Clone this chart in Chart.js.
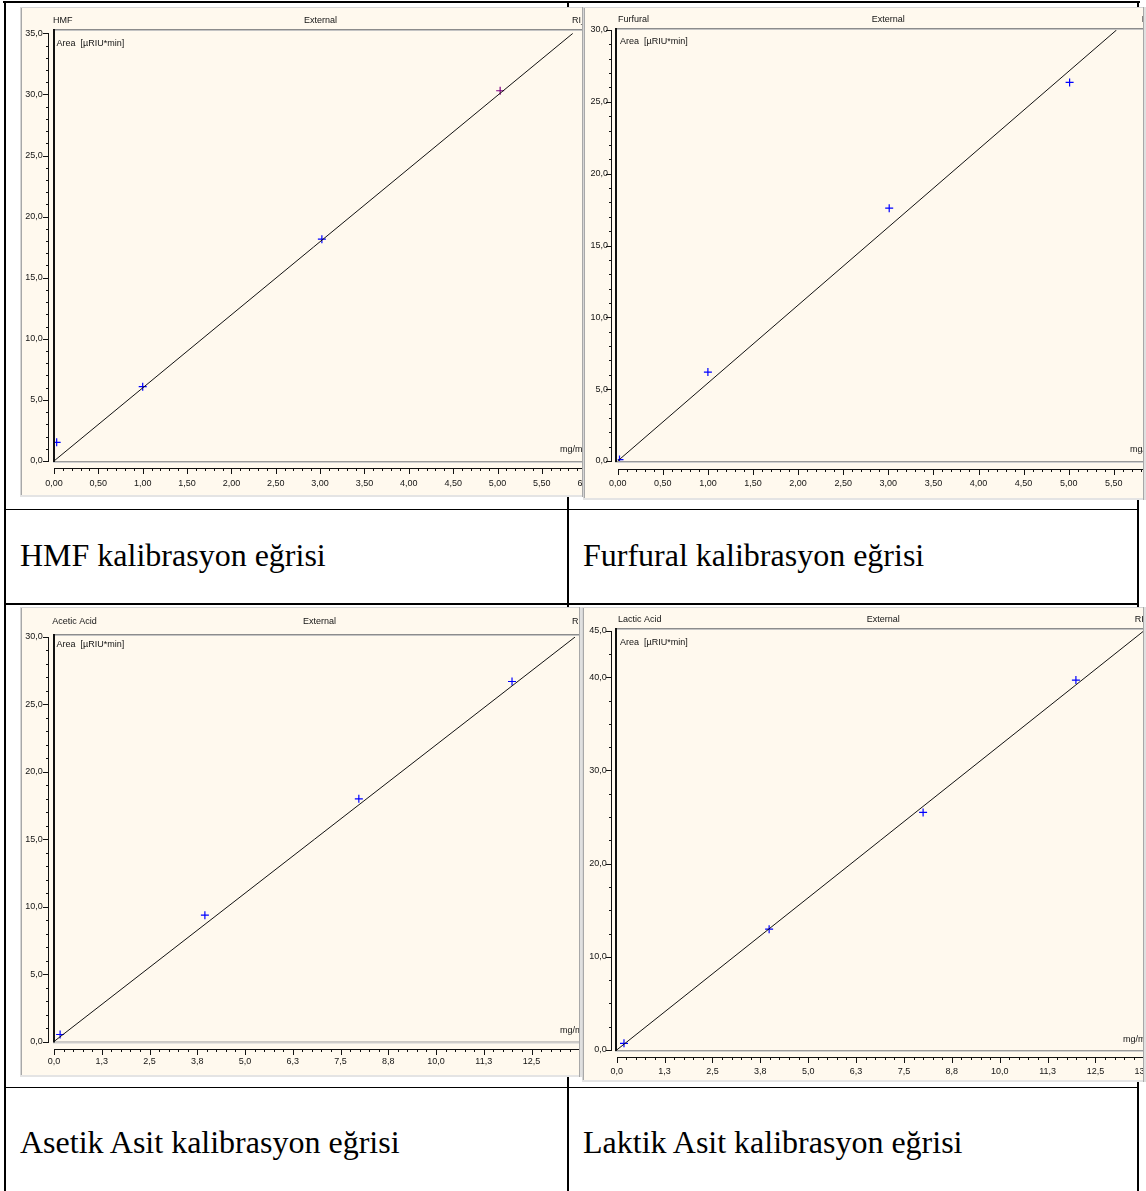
<!DOCTYPE html>
<html>
<head>
<meta charset="utf-8">
<title>Kalibrasyon eğrileri</title>
<script src="https://cdn.jsdelivr.net/npm/chart.js@4.4.1/dist/chart.umd.min.js"></script>
<style>
  html, body { margin: 0; padding: 0; background: #ffffff; }
  body { position: relative; width: 1146px; height: 1191px; overflow: hidden; }
  .rule { position: absolute; background: #000000; }
  .panel { position: absolute; overflow: hidden; background: #fff9ee; }
  .panel canvas { position: absolute; left: 0; top: 0; }
  .caption {
    position: absolute; white-space: nowrap; line-height: 32px; height: 32px;
    font-family: "Liberation Serif", "Times New Roman", serif; font-size: 32px; color: #000;
  }
</style>
</head>
<body>

<!-- table grid -->
<div class="rule" style="left:3px;top:1px;width:1137px;height:2px"></div>
<div class="rule" style="left:4px;top:1px;width:2px;height:1190px"></div>
<div class="rule" style="left:567px;top:1px;width:2px;height:1190px"></div>
<div class="rule" style="left:1137px;top:1px;width:2px;height:1190px"></div>
<div class="rule" style="left:4px;top:509px;width:1135px;height:1px"></div>
<div class="rule" style="left:4px;top:603px;width:1135px;height:2px"></div>
<div class="rule" style="left:4px;top:1087px;width:1135px;height:1px"></div>

<!-- chart panels -->
<div class="panel" style="left:20px;top:7px;width:565px;height:490px"><canvas id="hmf"></canvas></div>
<div class="panel" style="left:583px;top:7px;width:563px;height:493px"><canvas id="furfural"></canvas></div>
<div class="panel" style="left:20px;top:607px;width:565px;height:470px"><canvas id="acetic"></canvas></div>
<div class="panel" style="left:582px;top:607px;width:564px;height:475px"><canvas id="lactic"></canvas></div>

<!-- captions -->
<div class="caption" style="left:20px;top:539px">HMF kalibrasyon eğrisi</div>
<div class="caption" style="left:583px;top:539px">Furfural kalibrasyon eğrisi</div>
<div class="caption" style="left:20px;top:1126px">Asetik Asit kalibrasyon eğrisi</div>
<div class="caption" style="left:583px;top:1126px">Laktik Asit kalibrasyon eğrisi</div>

<script>
// ---------------- calibration data ----------------
// HMF
const hmfConc   = [0.03, 1.00, 3.02, 5.03];          // mg/ml
const hmfArea   = [1.53, 6.08, 18.15, 30.30];        // µRIU*min
const hmfColors = ['#0000ff', '#0000ff', '#0000ff', '#800080'];
const hmfFitEnd = [5.85, 35.0];                      // fitted line leaves the plot here
const hmfXTicks = [0, 0.5, 1, 1.5, 2, 2.5, 3, 3.5, 4, 4.5, 5, 5.5, 6];
const hmfYTicks = [0, 5, 10, 15, 20, 25, 30, 35];

// Furfural
const furConc   = [0.02, 1.00, 3.01, 5.01];
const furArea   = [0.10, 6.19, 17.60, 26.35];
const furColors = ['#0000ff', '#0000ff', '#0000ff', '#0000ff'];
const furFitEnd = [5.53, 30.0];
const furXTicks = [0, 0.5, 1, 1.5, 2, 2.5, 3, 3.5, 4, 4.5, 5, 5.5, 6];
const furYTicks = [0, 5, 10, 15, 20, 25, 30];

// Acetic acid
const aceConc   = [0.16, 3.95, 7.98, 11.99];
const aceArea   = [0.52, 9.37, 18.00, 26.70];
const aceColors = ['#0000ff', '#0000ff', '#0000ff', '#0000ff'];
const aceFitEnd = [13.64, 30.0];
const aceXTicks = [0, 1.25, 2.5, 3.75, 5, 6.25, 7.5, 8.75, 10, 11.25, 12.5];
const aceYTicks = [0, 5, 10, 15, 20, 25, 30];

// Lactic acid
const lacConc   = [0.19, 3.98, 8.00, 11.99];
const lacArea   = [0.72, 12.97, 25.50, 39.70];
const lacColors = ['#0000ff', '#0000ff', '#0000ff', '#0000ff'];
const lacFitEnd = [13.77, 45.0];
const lacXTicks = [0, 1.25, 2.5, 3.75, 5, 6.25, 7.5, 8.75, 10, 11.25, 12.5, 13.75];
const lacYTicks = [0, 10, 20, 30, 40, 45];

// ---------------- drawing ----------------
const UI_FONT = '"Liberation Sans", Arial, sans-serif';
const INK = '#141414';

function fmt(v, dec) { return v.toFixed(dec).replace('.', ','); }

// Chromeleon-style window: header, plot frame, offset axes with minor ticks
const chromeleonFrame = {
  id: 'chromeleonFrame',
  beforeDraw(chart, args, o) {
    const { ctx, width, height } = chart;
    ctx.save();
    ctx.fillStyle = '#fff9ee';
    ctx.fillRect(0, 0, width, height);
    ctx.restore();
  },
  afterDatasetsDraw(chart, args, o) {
    const { ctx, width, height, chartArea: a } = chart;
    const xs = chart.scales.x, ys = chart.scales.y;
    ctx.save();

    // header separator and plot frame
    ctx.fillStyle = '#8c8c8c';
    ctx.fillRect(o.frameLeft, o.headerY, width - o.frameLeft, 1);
    ctx.fillStyle = '#c4c4c4';
    ctx.fillRect(o.frameLeft, o.headerY + 1, width - o.frameLeft, 1);
    ctx.fillStyle = '#9a9a9a';
    ctx.fillRect(o.frameLeft, a.bottom, width - o.frameLeft, 1);
    ctx.fillStyle = '#cfcfcf';
    ctx.fillRect(o.frameLeft, a.bottom + 1, width - o.frameLeft, 1);
    ctx.fillStyle = '#111';
    ctx.fillRect(o.frameLeft, o.headerY, 2, a.bottom - o.headerY + 1);

    // y axis
    ctx.fillStyle = '#111';
    const yTop = ys.getPixelForValue(ys.max), yBot = ys.getPixelForValue(ys.min);
    ctx.fillRect(o.yAxisX, Math.round(yTop), 1, Math.round(yBot) - Math.round(yTop) + 1);
    const nY = Math.round((ys.max - ys.min) / o.yMinor);
    for (let i = 0; i <= nY; i++) {
      const py = Math.round(ys.getPixelForValue(ys.min + i * o.yMinor));
      ctx.fillRect(o.yAxisX - 2, py, 2, 1);
    }
    ys.ticks.forEach(t => {
      const py = Math.round(ys.getPixelForValue(t.value));
      ctx.fillRect(o.yAxisX - 5, py, 5, 1);
    });

    // x axis
    const xL = xs.getPixelForValue(xs.min);
    ctx.fillRect(Math.round(xL), o.xAxisY, width - Math.round(xL), 1);
    const nX = Math.round((xs.max - xs.min) / o.xMinor);
    for (let i = 0; i <= nX; i++) {
      const px = Math.round(xs.getPixelForValue(xs.min + i * o.xMinor));
      ctx.fillRect(px, o.xAxisY, 1, 3);
    }
    xs.ticks.forEach(t => {
      const px = Math.round(xs.getPixelForValue(t.value));
      ctx.fillRect(px, o.xAxisY, 1, 6);
    });

    // texts
    ctx.font = '9px ' + UI_FONT;
    ctx.fillStyle = INK;
    ctx.textBaseline = 'middle';
    ctx.textAlign = 'left';
    ctx.fillText(o.title, o.titleX, o.titleY);
    ctx.fillText('External', o.externalX, o.titleY);
    ctx.fillText('RI_', o.channelX, o.titleY);
    ctx.fillText('Area  [\u00b5RIU*min]', o.areaX, o.areaY);
    ctx.fillText('mg/ml', o.unitX, o.unitY);

    // window edges
    ctx.fillStyle = '#d6d6d6';
    ctx.fillRect(0, 0, width, 1);
    ctx.fillRect(0, 0, 1, height);
    ctx.fillStyle = '#a8a8a8';
    ctx.fillRect(1, 1, 1, height - 2);
    ctx.fillStyle = '#e4e4e4';
    ctx.fillRect(0, o.panelH - 2, width, 2);
    ctx.fillStyle = '#a8a8a8';
    ctx.fillRect(o.panelW - 3, 0, 1, height);
    ctx.fillStyle = '#e0e0e0';
    ctx.fillRect(o.panelW - 2, 0, 2, height);
    ctx.restore();
  }
};

function calibrationChart(id, d, L) {
  const canvas = document.getElementById(id);
  canvas.width = L.W;
  canvas.height = L.H;
  return new Chart(canvas, {
    type: 'scatter',
    data: {
      datasets: [
        {
          label: 'fit',
          data: [{ x: 0, y: 0 }, { x: d.fitEnd[0], y: d.fitEnd[1] }],
          showLine: true,
          borderColor: '#111111',
          borderWidth: 1,
          pointRadius: 0,
          clip: 0
        },
        {
          label: 'standards',
          data: d.conc.map((c, i) => ({ x: c, y: d.area[i] })),
          pointStyle: 'cross',
          pointRadius: 4,
          pointBorderWidth: 1.2,
          pointBorderColor: d.colors,
          pointBackgroundColor: d.colors,
          borderColor: d.colors,
          clip: 0
        }
      ]
    },
    options: {
      responsive: false,
      animation: false,
      devicePixelRatio: 1,
      events: [],
      layout: { padding: { left: 0, top: L.top, right: L.W - L.right, bottom: 0 } },
      plugins: {
        legend: { display: false },
        tooltip: { enabled: false },
        chromeleonFrame: Object.assign({ title: d.title, panelW: L.panelW, panelH: L.panelH }, L.frame)
      },
      scales: {
        x: {
          type: 'linear', min: 0, max: L.xMax,
          grid: { display: false, drawTicks: false },
          border: { display: false },
          ticks: {
            autoSkip: false, maxRotation: 0, padding: L.xPad, color: INK,
            font: { family: UI_FONT, size: 9 },
            callback: v => fmt(v, d.xDec)
          },
          afterBuildTicks: s => { s.ticks = d.xTicks.map(v => ({ value: v })); },
          afterFit: s => { s.height = L.H - L.bottom; }
        },
        y: {
          type: 'linear', min: 0, max: d.yTicks[d.yTicks.length - 1],
          grid: { display: false, drawTicks: false },
          border: { display: false },
          ticks: {
            autoSkip: false, padding: L.yPad, color: INK,
            font: { family: UI_FONT, size: 9 },
            callback: v => fmt(v, 1)
          },
          afterBuildTicks: s => { s.ticks = d.yTicks.map(v => ({ value: v })); },
          afterFit: s => { s.width = L.left; }
        }
      }
    },
    plugins: [chromeleonFrame]
  });
}

calibrationChart('hmf',
  { title: 'HMF', conc: hmfConc, area: hmfArea, colors: hmfColors, fitEnd: hmfFitEnd,
    xTicks: hmfXTicks, yTicks: hmfYTicks, xDec: 2 },
  { W: 620, H: 490, panelW: 565, panelH: 490, left: 34, top: 26.3, bottom: 454, right: 34 + 6.2 * 88.7, xMax: 6.2,
    xPad: 17, yPad: 11.3,
    frame: { frameLeft: 33, headerY: 22, yAxisX: 28, xAxisY: 461, yMinor: 1, xMinor: 0.1,
             titleX: 33, titleY: 13.5, externalX: 284, channelX: 552, areaX: 36.5, areaY: 36.3,
             unitX: 540, unitY: 443 } });

calibrationChart('furfural',
  { title: 'Furfural', conc: furConc, area: furArea, colors: furColors, fitEnd: furFitEnd,
    xTicks: furXTicks, yTicks: furYTicks, xDec: 2 },
  { W: 620, H: 493, panelW: 563, panelH: 493, left: 34.7, top: 23, bottom: 454, right: 34.7 + 6.2 * 90.2, xMax: 6.2,
    xPad: 17, yPad: 9.7,
    frame: { frameLeft: 32, headerY: 21, yAxisX: 28, xAxisY: 462, yMinor: 1, xMinor: 0.1,
             titleX: 35, titleY: 12.2, externalX: 288.7, channelX: 558.7, areaX: 37, areaY: 34.7,
             unitX: 547, unitY: 443 } });

calibrationChart('acetic',
  { title: 'Acetic Acid', conc: aceConc, area: aceArea, colors: aceColors, fitEnd: aceFitEnd,
    xTicks: aceXTicks, yTicks: aceYTicks, xDec: 1 },
  { W: 620, H: 470, panelW: 562, panelH: 470, left: 34, top: 30, bottom: 434.5, right: 34 + 14.5 * 38.2, xMax: 14.5,
    xPad: 14.5, yPad: 11.3,
    frame: { frameLeft: 33, headerY: 27, yAxisX: 28, xAxisY: 442, yMinor: 1, xMinor: 0.25,
             titleX: 32.3, titleY: 15, externalX: 283, channelX: 552, areaX: 36.5, areaY: 38,
             unitX: 540, unitY: 424 } });

calibrationChart('lactic',
  { title: 'Lactic Acid', conc: lacConc, area: lacArea, colors: lacColors, fitEnd: lacFitEnd,
    xTicks: lacXTicks, yTicks: lacYTicks, xDec: 1 },
  { W: 620, H: 475, panelW: 564, panelH: 475, left: 34.7, top: 23.7, bottom: 443, right: 34.7 + 14.5 * 38.3, xMax: 14.5,
    xPad: 16.3, yPad: 10,
    frame: { frameLeft: 33, headerY: 21, yAxisX: 29, xAxisY: 450, yMinor: 2.5, xMinor: 0.25,
             titleX: 36, titleY: 13, externalX: 284.7, channelX: 552.7, areaX: 38, areaY: 36,
             unitX: 541, unitY: 433 } });
</script>
</body>
</html>
